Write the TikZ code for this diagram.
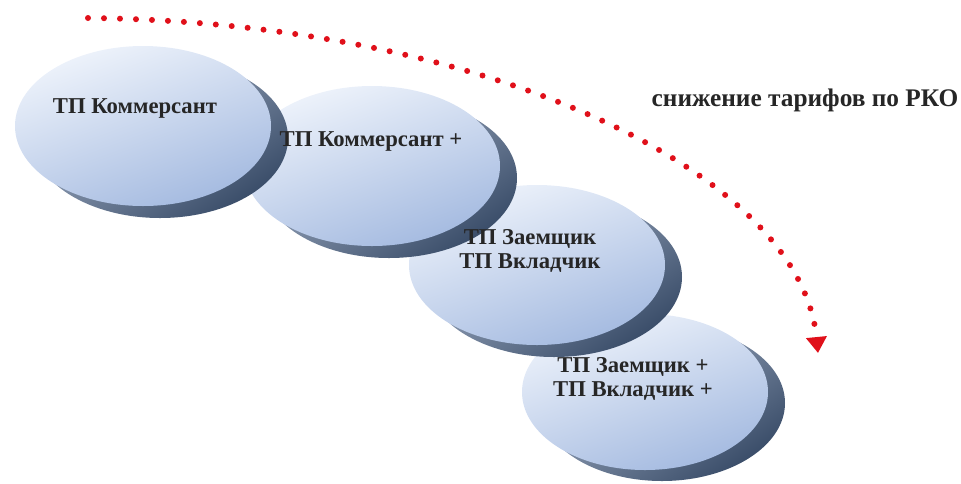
\documentclass[tikz,border=0pt]{standalone}
\usepackage{fontspec}
\setmainfont{Liberation Serif}
\usetikzlibrary{arrows.meta,positioning,shapes.geometric}
\definecolor{disclight}{HTML}{EEF3FB}
\definecolor{discblue}{HTML}{A4BAE0}
\definecolor{sidelight}{HTML}{AEBBD0}
\definecolor{sidedark}{HTML}{3A4D69}
\definecolor{dotred}{HTML}{E0101A}

\begin{document}
\begin{tikzpicture}[x=0.75pt,y=-0.75pt,
  disctop/.style={ellipse,minimum width=192pt,minimum height=120pt,inner sep=0pt,
    top color=disclight,bottom color=discblue,shading angle=20},
  discside/.style={ellipse,minimum width=192pt,minimum height=120pt,inner sep=0pt,
    top color=sidelight,bottom color=sidedark,shading angle=35},
  disclabel/.style={align=center,inner sep=1pt,text=black!85,
    font=\fontsize{17}{18}\selectfont\bfseries},
  dotarc/.style={dotred,line width=4.5pt,line cap=round,dash pattern=on 0pt off 12pt}]
  \useasboundingbox (0,0) rectangle (961,483);
  % discs, back to front
  \node[discside,minimum width=184.5pt,minimum height=117pt] (d4s) at (662,403) {};
  \node[disctop,minimum width=184.5pt,minimum height=117pt] (d4) at (645,392) {};
  \node[discside] (d3s) at (554,277) {};
  \node[disctop] (d3) at (537,265) {};
  \node[discside] (d2s) at (389,178) {};
  \node[disctop] (d2) at (372,166) {};
  \node[discside] (d1s) at (160,138) {};
  \node[disctop] (d1) at (143,126) {};
  % labels
  \node[disclabel] (t1) at (135,108) {ТП Коммерсант};
  \node[disclabel] (t2) at (371,141) {ТП Коммерсант +};
  \node[disclabel] (t3) at (530,251) {ТП Заемщик\\ТП Вкладчик};
  \node[disclabel] (t4) at (633,379) {ТП Заемщик +\\ТП Вкладчик +};
  \node[disclabel,font=\fontsize{19}{20}\selectfont\bfseries] (tariff) at (805,100)
    {снижение тарифов по РКО};
  % dotted arrow
  \coordinate (arcstart) at (88,18);
  \coordinate (arcend) at (818,353);
  \draw[dotarc,-{Triangle[length=12pt,width=15pt]}] (arcstart)
    .. controls (480,22) and (800,170) .. (arcend);
\end{tikzpicture}
\end{document}
